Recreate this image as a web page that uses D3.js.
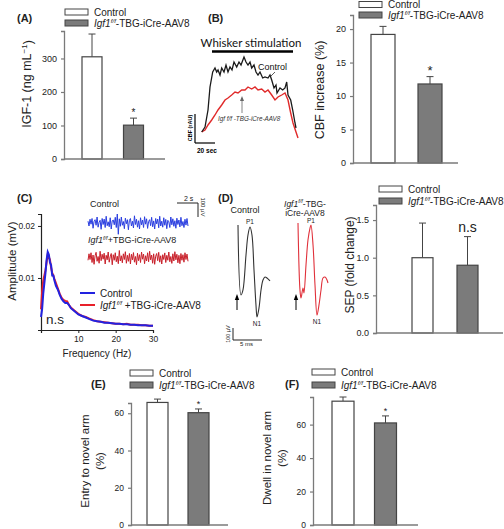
<!DOCTYPE html>
<html><head><meta charset="utf-8">
<script src="https://cdn.jsdelivr.net/npm/d3@7"></script>
<style>body{margin:0;background:#fff}svg{display:block;font-family:Arial,"Liberation Sans",sans-serif}</style>
</head><body><svg id="c" width="504" height="529"></svg>
<script>
// ---------- DATA ----------
const groups = ["Control", "Igf1 f/f-TBG-iCre-AAV8"];
const igfMean = [305, 101], igfErr = [68, 21], igfTicks = [0, 100, 200, 300];
const cbfMean = [19.2, 11.8], cbfErr = [1.2, 1.1], cbfTicks = [0, 5, 10, 15, 20];
const sepMean = [1.0, 0.90], sepErr = [0.46, 0.38], sepTicks = [0, 0.5, 1.0, 1.5];
const entryMean = [65.8, 60.3], entryErr = [1.8, 2.0], entryTicks = [0, 20, 40, 60];
const dwellMean = [74, 61], dwellErr = [2.5, 4.2], dwellTicks = [0, 20, 40, 60];
// CBF traces (time s, CBF rAU)
const cbfCtrlT = [0,3.3,6.3,8.3,11,13.3,15,16.3,18.3,20,22.3,24.3,26.3,28.3,30.3,32.3,35,37.3,39.3,42.3,44.3,46.3,48.3,50,52.3,54.3,56.3,58.3,61,63.3,66.3,68.3,70,72.3,74.3,75.3,78.3,81,83.3,85,86.3,89,91,93.3,94.3];
const cbfCtrlV = [0,5,22,45,60,64,60,62,57,64,60,67,60,65,62,70,65,70,67,75,70,67,70,64,67,60,57,60,54,55,54,57,52,44,47,39,44,42,44,50,37,32,22,9,4];
const cbfKoT = [0,3.3,6.3,10,13.3,16.3,20,23.3,26.3,30,33.3,36.3,40,43.3,46.3,50,53.3,56.3,60,63.3,66.3,70,73.3,76.3,80,83.3,86.3,89,91.3,94.3,96.3];
const cbfKoV = [0,2,7,12,17,22,27,32,34,37,40,39,42,42,45,43,45,42,43,40,42,37,32,35,37,39,32,19,9,0,-6];
// EEG power spectrum (Hz, mV)
const freq = [0,0.3,0.6,0.9,1.2,1.5,1.8,2.1,2.4,2.7,3.0,3.3,3.6,4,4.5,5,5.5,6,6.5,7,7.5,8,9,10,11,12,13,14,15,16,17,18,19,20,21,22,23,24,25,26,27,28,29,30];
const ampCtrl = [0.0025,0.004,0.007,0.009,0.011,0.0135,0.015,0.0145,0.013,0.0125,0.0105,0.0105,0.0095,0.0085,0.0078,0.0068,0.006,0.0055,0.0052,0.0052,0.0048,0.0042,0.0036,0.003,0.0027,0.0024,0.0021,0.0018,0.0017,0.0016,0.0014,0.0014,0.0013,0.0012,0.0012,0.0011,0.0011,0.001,0.001,0.0009,0.0009,0.0009,0.0008,0.0008];
const ampKo = [0.004,0.0075,0.0095,0.0105,0.0115,0.013,0.0145,0.014,0.0135,0.012,0.011,0.0105,0.0098,0.009,0.008,0.007,0.0062,0.0058,0.0056,0.0055,0.0048,0.0043,0.0037,0.0031,0.0027,0.0025,0.0022,0.0019,0.0017,0.0016,0.0015,0.0014,0.0013,0.0012,0.0012,0.0011,0.0012,0.001,0.001,0.001,0.0009,0.0009,0.0008,0.0008];
const specXTicks = [10, 20, 30], specYTicks = [0.01, 0.02];
// raw EEG traces (µV)
const eegCtrl = [12,-20,25,-8,30,-35,10,22,-15,40,-28,5,18,-42,30,-10,26,-30,45,-18,8,-25,35,-40,15,20,-12,38,-30,60,-75,28,-22,40,-15,10,-38,32,-5,22,-45,18,30,-20,12,-33,48,-10,25,-28,15,-40,35,-12,20,-30,42,-8,28,-36,10,22,-18,38,-25,14,-40,30,-6,26,-32,45,-20,12,-28,35,-15,24,-38,18,8,-30,40,-12,28,-22,15,-35,32,-10,20,-26,38,-18,10,-30,25,-14,30,-20];
const eegKo = [-15,28,-10,35,-30,20,-42,15,38,-22,10,-35,45,-18,25,-8,32,-40,18,-12,40,-28,8,30,-45,22,-15,35,-25,12,-38,50,-20,15,-32,28,-10,42,-35,18,-22,30,-40,25,-12,36,-28,10,-45,32,-18,22,-30,40,-8,26,-38,15,-20,35,-25,45,-12,20,-35,28,-42,12,30,-18,38,-28,15,-40,22,-10,34,-30,18,-15,40,-25,10,-36,28,-20,42,-12,25,-32,18,-38,30,-15,22,-28,35,-10,26,-22];
// SEP waveforms (ms, µV)
const sepCtrlT = [0,0.52,0.86,1.38,1.72,2.07,2.41,2.76,3.1,3.28,3.62,3.97,4.31,4.66,5.0,5.52];
const sepCtrlV = [458,-125,-83,208,375,442,375,83,-208,-308,-233,-83,0,25,17,-8];
const sepKoT = [0,0.34,0.52,0.86,1.03,1.38,1.72,2.07,2.24,2.59,2.93,3.28,3.62,3.97,4.31,4.66,5.0,5.17];
const sepKoV = [475,-83,-150,-67,-108,125,333,433,458,292,-42,-292,-208,-83,17,25,0,-25];

// ---------- DRAW ----------
const svg = d3.select("#c");
const AX = "#7a7a7a", BAR_STROKE = "#444", GRAY = "#7b7b7b", TXT = "#222";

function label(x, y, t) {
  svg.append("text").attr("x", x).attr("y", y).attr("font-size", 11).attr("font-weight", "bold").attr("fill", TXT).text(t);
}
function koText(sel, x, y, fs, tail, italicAll) {
  const t = sel.append("text").attr("x", x).attr("y", y).attr("font-size", fs).attr("fill", TXT);
  t.append("tspan").attr("font-style", "italic").text("Igf1");
  t.append("tspan").attr("font-style", "italic").attr("font-size", fs * 0.62).attr("dy", -fs * 0.38).text("f/f");
  t.append("tspan").attr("dy", fs * 0.38).attr("font-style", italicAll ? "italic" : null).text(tail);
  return t;
}
function legend(x, y1, y2) {
  svg.append("rect").attr("x", x).attr("y", y1).attr("width", 23).attr("height", 6)
    .attr("fill", "#fff").attr("stroke", BAR_STROKE).attr("stroke-width", 1);
  svg.append("rect").attr("x", x).attr("y", y2).attr("width", 23).attr("height", 6)
    .attr("fill", GRAY).attr("stroke", BAR_STROKE).attr("stroke-width", 1);
  svg.append("text").attr("x", x + 29).attr("y", y1 + 6.5).attr("font-size", 10).attr("fill", TXT).text(groups[0]);
  koText(svg, x + 29, y2 + 6.5, 10, "-TBG-iCre-AAV8");
}
function yTitle(x, y, fs) {
  return svg.append("text").attr("transform", `translate(${x},${y}) rotate(-90)`)
    .attr("text-anchor", "middle").attr("font-size", fs).attr("fill", TXT).attr("dy", "0.35em");
}
function barPanel(o) {
  const y = d3.scaleLinear().domain([0, o.max]).range([o.bottom, o.top]);
  const g = svg.append("g");
  const ax = d3.axisLeft(y).tickValues(o.ticks).tickSize(3).tickPadding(4).tickFormat(o.fmt || d3.format("d"));
  const ag = g.append("g").attr("transform", `translate(${o.axisX},0)`).call(ax);
  ag.select(".domain").attr("stroke", AX).attr("stroke-width", 1.3);
  ag.selectAll(".tick line").attr("stroke", AX).attr("stroke-width", 1.2);
  ag.selectAll(".tick text").attr("font-size", o.tickFs || 9).attr("fill", TXT).attr("font-family", "Arial, 'Liberation Sans', sans-serif");
  o.means.forEach((m, i) => {
    const cx = o.centers[i];
    g.append("line").attr("x1", cx).attr("x2", cx).attr("y1", y(m)).attr("y2", y(m + o.errs[i]))
      .attr("stroke", BAR_STROKE).attr("stroke-width", 1);
    g.append("line").attr("x1", cx - 3.5).attr("x2", cx + 3.5).attr("y1", y(m + o.errs[i])).attr("y2", y(m + o.errs[i]))
      .attr("stroke", BAR_STROKE).attr("stroke-width", 1);
    g.append("rect").attr("x", cx - o.bw / 2).attr("y", y(m)).attr("width", o.bw).attr("height", o.bottom - y(m))
      .attr("fill", i === 0 ? "#fff" : GRAY).attr("stroke", BAR_STROKE).attr("stroke-width", 1.2);
  });
  g.append("line").attr("x1", o.axisX).attr("x2", o.xEnd).attr("y1", o.bottom).attr("y2", o.bottom)
    .attr("stroke", AX).attr("stroke-width", 1.5);
  if (o.mark) {
    const m = o.means[1] + o.errs[1];
    g.append("text").attr("x", o.centers[1]).attr("y", y(m) - o.markGap).attr("text-anchor", "middle")
      .attr("font-size", o.markSize).attr("fill", TXT).text(o.mark);
  }
  return y;
}

// ---- Panel A ----
label(17, 22, "(A)");
legend(65, 9, 20);
barPanel({axisX: 64, top: 31, bottom: 159, max: 382, ticks: igfTicks, means: igfMean, errs: igfErr,
  centers: [92, 133.5], bw: 20, xEnd: 165, mark: "*", markGap: 2, markSize: 10});
{
  const t = yTitle(27, 84, 12.5);
  t.append("tspan").text("IGF-1 (ng mL");
  t.append("tspan").attr("font-size", 8).attr("dy", "-0.6em").text("−1");
  t.append("tspan").attr("dy", "0.45em").text(")");
}

// ---- Panel B traces ----
label(208, 22, "(B)");
svg.append("text").attr("x", 251).attr("y", 47).attr("text-anchor", "middle").attr("font-size", 11.5).attr("font-weight", 400)
  .attr("font-family", "Lato, 'Open Sans', sans-serif").attr("fill", "#111").text("Whisker stimulation");
svg.append("line").attr("x1", 212).attr("x2", 293).attr("y1", 51.5).attr("y2", 51.5).attr("stroke", "#000").attr("stroke-width", 2.6);
const bx = d3.scaleLinear().domain([0, 20]).range([201.7, 221.7]);
const by = d3.scaleLinear().domain([0, 20]).range([132, 112]);
const bline = d3.line().x(d => bx(d[0])).y(d => by(d[1]));
svg.append("path").attr("d", bline(d3.zip(cbfKoT, cbfKoV))).attr("fill", "none").attr("stroke", "#e02a2a").attr("stroke-width", 1.4);
svg.append("path").attr("d", bline(d3.zip(cbfCtrlT, cbfCtrlV))).attr("fill", "none").attr("stroke", "#1a1a1a").attr("stroke-width", 1.3);
svg.append("text").attr("x", 258).attr("y", 70).attr("font-size", 9).attr("fill", "#111").text("Control");
svg.append("path").attr("d", "M271,76 q2,-2 4,-4").attr("stroke", "#333").attr("fill", "none").attr("stroke-width", 0.8);
svg.append("text").attr("x", 218).attr("y", 121).attr("font-size", 6.3).attr("font-style", "italic").attr("fill", "#333")
  .text("Igf f/f -TBG-iCre-AAV8");
svg.append("line").attr("x1", 242).attr("x2", 242).attr("y1", 113).attr("y2", 98).attr("stroke", "#666").attr("stroke-width", 0.8);
svg.append("path").attr("d", "M240,101 L242,96 L244,101Z").attr("fill", "#666");
// scale bar
svg.append("line").attr("x1", 195).attr("x2", 195).attr("y1", 114).attr("y2", 143).attr("stroke", "#000").attr("stroke-width", 1.2);
svg.append("line").attr("x1", 195).attr("x2", 215).attr("y1", 143).attr("y2", 143).attr("stroke", "#000").attr("stroke-width", 1.2);
svg.append("text").attr("transform", "translate(190,128) rotate(-90)").attr("text-anchor", "middle").attr("dy", "0.35em")
  .attr("font-size", 5.5).attr("font-weight", "bold").attr("fill", "#000").text("CBF (rAU)");
svg.append("text").attr("x", 197).attr("y", 153).attr("font-size", 6.5).attr("font-weight", "bold").attr("fill", "#000").text("20 sec");

// ---- Panel B bars ----
legend(359, 1.5, 12);
barPanel({axisX: 353, top: 15, bottom: 163, max: 22.1, ticks: cbfTicks, means: cbfMean, errs: cbfErr,
  centers: [383, 430], bw: 24, xEnd: 458, mark: "*", markGap: 2, markSize: 13});
yTitle(320, 90, 12.5).text("CBF increase (%)");

// ---- Panel C ----
label(17, 202, "(C)");
{
  const x = d3.scaleLinear().domain([0, 30]).range([41, 153]);
  const y = d3.scaleLinear().domain([0, 0.0223]).range([330, 214]);
  const xa = svg.append("g").attr("transform", "translate(0,330)").call(d3.axisBottom(x).tickValues([0, ...specXTicks]).tickSize(3).tickPadding(3).tickFormat(d => d === 0 ? "" : d));
  const ya = svg.append("g").attr("transform", "translate(41,0)").call(d3.axisLeft(y).tickValues(specYTicks).tickSize(3).tickPadding(3).tickFormat(d3.format(".2f")));
  [xa, ya].forEach(a => {
    a.select(".domain").attr("stroke", "#222").attr("stroke-width", 1.2);
    a.selectAll(".tick line").attr("stroke", "#222");
    a.selectAll(".tick text").attr("font-size", 8.5).attr("fill", TXT).attr("font-family", "Arial, 'Liberation Sans', sans-serif");
  });
  const ln = d3.line().x((d, i) => x(freq[i])).y(d => y(d));
  svg.append("path").attr("d", ln(ampKo)).attr("fill", "none").attr("stroke", "#e8202a").attr("stroke-width", 2);
  svg.append("path").attr("d", ln(ampCtrl)).attr("fill", "none").attr("stroke", "#2222e0").attr("stroke-width", 2);
  svg.append("text").attr("x", 97).attr("y", 357).attr("text-anchor", "middle").attr("font-size", 10).attr("fill", TXT).text("Frequency (Hz)");
  yTitle(12, 261, 11.5).text("Amplitude (mV)");
  svg.append("text").attr("x", 46).attr("y", 324).attr("font-size", 13.5).attr("fill", TXT).text("n.s");
  // legend
  svg.append("line").attr("x1", 80).attr("x2", 95).attr("y1", 293).attr("y2", 293).attr("stroke", "#2222e0").attr("stroke-width", 2);
  svg.append("line").attr("x1", 80).attr("x2", 95).attr("y1", 305).attr("y2", 305).attr("stroke", "#e8202a").attr("stroke-width", 2);
  svg.append("text").attr("x", 100).attr("y", 296.5).attr("font-size", 10).attr("fill", TXT).text("Control");
  koText(svg, 100, 308.5, 10, " +TBG-iCre-AAV8");
  // raw EEG insets
  const ex = d3.scaleLinear().domain([0, eegCtrl.length - 1]).range([88, 188]);
  const ey = d3.scaleLinear().domain([0, 100]).range([0, -15]);
  const el = (c) => d3.line().x((d, i) => ex(i)).y(d => c + ey(d));
  svg.append("path").attr("d", el(223)(eegCtrl)).attr("fill", "none").attr("stroke", "#2a3ee0").attr("stroke-width", 1);
  svg.append("path").attr("d", el(258)(eegKo)).attr("fill", "none").attr("stroke", "#c8202a").attr("stroke-width", 1);
  svg.append("text").attr("x", 90).attr("y", 207).attr("font-size", 9).attr("fill", TXT).text("Control");
  koText(svg, 88, 243, 9, "+TBG-iCre-AAV8");
  svg.append("path").attr("d", "M177,203 H198 V217").attr("fill", "none").attr("stroke", "#222").attr("stroke-width", 1);
  svg.append("text").attr("x", 184).attr("y", 201).attr("font-size", 7).attr("fill", TXT).text("2 s");
  svg.append("text").attr("transform", "translate(203,207) rotate(90)").attr("text-anchor", "middle").attr("dy", "0.35em")
    .attr("font-size", 6).attr("fill", TXT).text("100 µV");
}

// ---- Panel D waveforms ----
label(218, 202, "(D)");
{
  const ty = d3.scaleLinear().domain([0, 100]).range([0, -12]);
  const mk = (x0, T, V, col) => {
    const tx = d3.scaleLinear().domain([0, 5]).range([x0, x0 + 29]);
    svg.append("path").attr("d", d3.line().curve(d3.curveCatmullRom).x((d) => tx(d[0])).y(d => 280 + ty(d[1]))(d3.zip(T, V)))
      .attr("fill", "none").attr("stroke", col).attr("stroke-width", 1.1);
  };
  mk(238, sepCtrlT, sepCtrlV, "#333");
  mk(298, sepKoT, sepKoV, "#e0303a");
  svg.append("text").attr("x", 245).attr("y", 213).attr("text-anchor", "middle").attr("font-size", 9).attr("fill", TXT).text("Control");
  const t = svg.append("text").attr("x", 305).attr("y", 206.5).attr("text-anchor", "middle").attr("font-size", 8.5).attr("fill", TXT);
  t.append("tspan").attr("font-style", "italic").text("Igf1");
  t.append("tspan").attr("font-style", "italic").attr("font-size", 5.5).attr("dy", -3.5).text("f/f");
  t.append("tspan").attr("dy", 3.5).text("-TBG-");
  svg.append("text").attr("x", 305).attr("y", 216).attr("text-anchor", "middle").attr("font-size", 8.5).attr("fill", TXT).text("iCre-AAV8");
  [[250, 224], [311, 223]].forEach(p => svg.append("text").attr("x", p[0]).attr("y", p[1]).attr("text-anchor", "middle").attr("font-size", 6.5).attr("fill", TXT).text("P1"));
  [[257, 326], [317, 324]].forEach(p => svg.append("text").attr("x", p[0]).attr("y", p[1]).attr("text-anchor", "middle").attr("font-size", 6.5).attr("fill", TXT).text("N1"));
  [237, 296].forEach(x => {
    svg.append("line").attr("x1", x).attr("x2", x).attr("y1", 310).attr("y2", 299).attr("stroke", "#000").attr("stroke-width", 1);
    svg.append("path").attr("d", `M${x - 2.2},300 L${x},294 L${x + 2.2},300Z`).attr("fill", "#000");
  });
  svg.append("path").attr("d", "M233,328 V340 H262").attr("fill", "none").attr("stroke", "#222").attr("stroke-width", 1);
  svg.append("text").attr("x", 240).attr("y", 346).attr("font-size", 6).attr("fill", TXT).text("5 ms");
  svg.append("text").attr("transform", "translate(228,334) rotate(-90)").attr("text-anchor", "middle").attr("dy", "0.35em")
    .attr("font-size", 5.5).attr("fill", TXT).text("100 µV");
}

// ---- Panel D bars ----
legend(379, 186, 198);
barPanel({axisX: 376, top: 205, bottom: 333, max: 1.70, ticks: sepTicks, fmt: d3.format(".1f"), means: sepMean, errs: sepErr,
  centers: [422.5, 467.5], bw: 21, xEnd: 503, mark: "n.s", markGap: 5, markSize: 14});
yTitle(350, 265, 12).text("SEP (fold change)");

// ---- Panel E ----
label(91, 388, "(E)");
legend(130, 370, 382);
barPanel({axisX: 131, top: 403, bottom: 525, max: 65.5, ticks: entryTicks, means: entryMean, errs: entryErr, tickFs: 8.5,
  centers: [157.5, 198.5], bw: 21, xEnd: 228, mark: "*", markGap: 1.5, markSize: 9});
yTitle(85, 461, 11.5).text("Entry to novel arm");
yTitle(100, 461, 11.5).text("(%)");

// ---- Panel F ----
label(285, 388, "(F)");
legend(312, 369, 382);
barPanel({axisX: 313, top: 397, bottom: 525, max: 76.5, ticks: dwellTicks, means: dwellMean, errs: dwellErr, tickFs: 8.5,
  centers: [343, 385.5], bw: 22, xEnd: 418, mark: "*", markGap: 1.5, markSize: 9});
yTitle(267, 458, 11.5).text("Dwell in novel arm");
yTitle(282, 458, 11.5).text("(%)");
</script></body></html>
